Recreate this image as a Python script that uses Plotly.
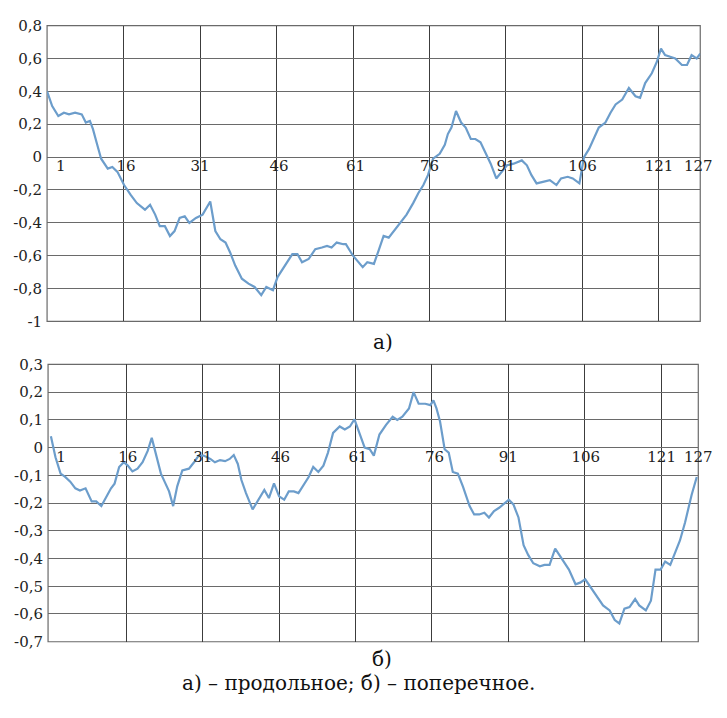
import plotly.graph_objects as go

# ---------------- data ----------------
top_x = [1, 2, 3.2, 4.3, 5.3, 6.5, 7.8, 8.6, 9.4, 10.0, 10.7, 11.6, 12.9, 13.8, 14.8,
         16.1, 17.4, 18.6, 20.2, 21.2, 22.2, 23.1, 24.1, 25.1, 26, 27, 28, 28.9, 30.2,
         31.5, 33, 34, 35, 36, 36.9, 37.9, 39.2, 40.5, 41.7, 43, 44, 45.3, 46.2, 47.2,
         48.1, 49.1, 50.1, 51, 52.3, 53.6, 54.9, 55.9, 56.8, 57.8, 59.1, 59.6, 61, 62.9,
         63.8, 65.1, 66, 67, 68, 69.3, 70.3, 71.5, 72.8, 73.8, 74.8, 75.7, 76.7, 78, 79,
         79.6, 80.3, 81.2, 82.2, 83.1, 84.1, 85, 86, 87, 88, 89.1, 89.9, 91.2, 92.5, 94.1,
         95.1, 96, 97, 98.3, 99.6, 100.9, 101.8, 103.1, 104.1, 105.4, 106.3, 107.3, 108.3,
         109.2, 110.5, 111.5, 112.5, 113.8, 115.1, 116.4, 117.3, 118.3, 119.6, 120.6, 121.4,
         122.2, 123.2, 124.2, 125.5, 126.5, 127.4, 128.4, 129.1]
top_y = [0.40, 0.31, 0.25, 0.27, 0.26, 0.27, 0.26, 0.21, 0.22, 0.17, 0.09, -0.01, -0.07,
         -0.06, -0.09, -0.17, -0.23, -0.28, -0.32, -0.29, -0.35, -0.42, -0.42, -0.48, -0.45,
         -0.37, -0.36, -0.40, -0.37, -0.35, -0.27, -0.45, -0.50, -0.52, -0.58, -0.66, -0.74,
         -0.77, -0.79, -0.84, -0.79, -0.81, -0.73, -0.68, -0.64, -0.59, -0.59, -0.64, -0.62,
         -0.56, -0.55, -0.54, -0.55, -0.52, -0.53, -0.53, -0.60, -0.67, -0.64, -0.65, -0.57,
         -0.48, -0.49, -0.44, -0.40, -0.35, -0.28, -0.22, -0.17, -0.11, -0.01, 0.02, 0.075,
         0.14, 0.18, 0.28, 0.21, 0.18, 0.11, 0.11, 0.09, 0.03, -0.04, -0.13, -0.10, -0.05,
         -0.04, -0.02, -0.05, -0.11, -0.16, -0.15, -0.14, -0.17, -0.13, -0.12, -0.13, -0.16,
         0.00, 0.05, 0.12, 0.18, 0.21, 0.27, 0.32, 0.35, 0.42, 0.37, 0.36, 0.45, 0.51, 0.58,
         0.66, 0.62, 0.61, 0.60, 0.56, 0.56, 0.62, 0.60, 0.63]

bot_x = [1.2, 2.1, 3.1, 4.0, 5.0, 6.0, 6.9, 8.0, 9.2, 10.1, 11.1, 12.1, 13.0, 13.7, 14.6,
         15.5, 16.3, 17.2, 18.2, 19.2, 20.2, 21.0, 22.0, 22.8, 23.7, 24.4, 25.2, 26.0, 27.0,
         28.3, 29.3, 30.2, 31.2, 32.5, 33.4, 34.4, 35.4, 36.3, 37.1, 37.9, 38.6, 39.5, 40.8,
         42.1, 43.1, 44.0, 45.0, 46.0, 47.0, 47.9, 48.9, 49.8, 50.8, 51.8, 52.7, 53.7, 54.7,
         55.6, 56.6, 57.9, 58.9, 59.9, 60.8, 61.6, 62.8, 63.8, 64.6, 65.7, 67.0, 68.3, 69.2,
         70.2, 71.5, 72.4, 73.4, 74.7, 75.7, 76.3, 76.9, 77.6, 78.5, 79.3, 80.1, 81.1, 82.1,
         83.4, 84.3, 85.3, 86.3, 87.2, 88.2, 89.2, 90.1, 91.1, 92.0, 93.0, 94.0, 94.9, 95.9,
         97.2, 98.1, 99.1, 100.2, 101.0, 101.9, 102.9, 104.2, 105.1, 106.1, 107.0, 108.3,
         109.6, 110.9, 111.9, 112.8, 113.8, 114.8, 115.9, 116.7, 118.0, 119.0, 119.9, 120.9,
         121.8, 122.8, 123.8, 124.7, 125.7, 127.0, 128.0]
bot_y = [0.041, -0.035, -0.094, -0.106, -0.123, -0.147, -0.155, -0.147, -0.194, -0.194,
         -0.211, -0.176, -0.147, -0.130, -0.070, -0.053, -0.065, -0.086, -0.076, -0.053,
         -0.012, 0.035, -0.035, -0.094, -0.130, -0.158, -0.211, -0.140, -0.082, -0.076,
         -0.053, -0.029, -0.029, -0.041, -0.053, -0.045, -0.049, -0.041, -0.027, -0.059,
         -0.117, -0.164, -0.223, -0.182, -0.153, -0.182, -0.129, -0.176, -0.188, -0.158,
         -0.158, -0.164, -0.135, -0.106, -0.070, -0.088, -0.065, -0.018, 0.053, 0.076, 0.065,
         0.076, 0.102, 0.059, 0.000, -0.006, -0.029, 0.047, 0.082, 0.111, 0.100, 0.111, 0.141,
         0.200, 0.158, 0.158, 0.153, 0.170, 0.141, 0.094, -0.006, -0.018, -0.088, -0.094,
         -0.141, -0.211, -0.241, -0.241, -0.235, -0.252, -0.229, -0.217, -0.203, -0.188,
         -0.205, -0.252, -0.352, -0.387, -0.417, -0.428, -0.423, -0.423, -0.364, -0.387,
         -0.411, -0.440, -0.493, -0.487, -0.475, -0.499, -0.534, -0.569, -0.587, -0.622,
         -0.634, -0.581, -0.575, -0.546, -0.569, -0.587, -0.552, -0.440, -0.440, -0.411,
         -0.423, -0.376, -0.335, -0.270, -0.170, -0.106]

grid_x = [16, 31, 46, 61, 76, 91, 106, 121]
x_label_text = ["1", "16", "31", "46", "61", "76", "91", "106", "121", "127"]
top_label_pos = [3.7, 16.5, 31, 46.5, 61.5, 76, 91, 106, 121, 128.7]
bot_label_pos = [3.2, 16.3, 31, 46.3, 61.5, 76.5, 91, 106.2, 121.1, 128.3]

top_yvals = [-1, -0.8, -0.6, -0.4, -0.2, 0, 0.2, 0.4, 0.6, 0.8]
top_ytext = ["-1", "-0,8", "-0,6", "-0,4", "-0,2", "0", "0,2", "0,4", "0,6", "0,8"]
bot_yvals = [-0.7, -0.6, -0.5, -0.4, -0.3, -0.2, -0.1, 0, 0.1, 0.2, 0.3]
bot_ytext = ["-0,7", "-0,6", "-0,5", "-0,4", "-0,3", "-0,2", "-0,1", "0", "0,1", "0,2", "0,3"]

cap_a = "а)"
cap_b = "б)"
caption = "а) – продольное; б) – поперечное."

# ---------------- layout ----------------
W, H = 727, 718
FONT = "DejaVu Serif"
LINE = "#6c9dcb"
GRID_V = "#3c3c3c"
GRID_H = "#6a6a6a"

def px_x(p):
    return p / W

def px_y(p):
    return 1 - p / H

top_xdom = [px_x(48), px_x(714)]
top_ydom = [px_y(320.5), px_y(17)]
bot_xdom = [px_x(49), px_x(712)]
bot_ydom = [px_y(649), px_y(364.5)]

top_xr = [1, 129.1]
top_yr = [-1, 0.8]
bot_xr = [0.64, 128.3]
bot_yr = [-0.7, 0.3]

def zero_pos(ydom, yr):
    f = (0 - yr[0]) / (yr[1] - yr[0])
    return ydom[0] + f * (ydom[1] - ydom[0])

fig = go.Figure()
fig.add_trace(go.Scatter(x=top_x, y=top_y, mode="lines", xaxis="x", yaxis="y",
                         line=dict(color=LINE, width=2.2), showlegend=False))
fig.add_trace(go.Scatter(x=bot_x, y=bot_y, mode="lines", xaxis="x2", yaxis="y2",
                         line=dict(color=LINE, width=2.2), showlegend=False))

tickfont = dict(family=FONT, size=15, color="#222")

common_x = dict(showgrid=True, gridcolor=GRID_V, gridwidth=1, tickmode="array",
                tickvals=grid_x, showticklabels=False, zeroline=False, showline=False,
                ticks="")
common_y = dict(showgrid=True, gridcolor=GRID_H, gridwidth=1, tickmode="array",
                zeroline=False, showline=False, ticks="", tickfont=tickfont,
                ticklabelstandoff=4)

fig.update_layout(
    width=W, height=H, margin=dict(l=0, r=0, t=0, b=0),
    paper_bgcolor="white", plot_bgcolor="white",
    xaxis=dict(domain=top_xdom, range=top_xr, anchor="y", **common_x),
    yaxis=dict(domain=top_ydom, range=top_yr, anchor="x", tickvals=top_yvals,
               ticktext=top_ytext, **common_y),
    xaxis2=dict(domain=bot_xdom, range=bot_xr, anchor="y2", **common_x),
    yaxis2=dict(domain=bot_ydom, range=bot_yr, anchor="x2", tickvals=bot_yvals,
                ticktext=bot_ytext, **common_y),
    xaxis3=dict(domain=top_xdom, range=top_xr, overlaying="x", anchor="free",
                position=zero_pos(top_ydom, top_yr), side="bottom", tickmode="array",
                tickvals=top_label_pos, ticktext=x_label_text, showgrid=False,
                zeroline=False, showline=False, ticks="", tickfont=tickfont,
                ticklabelstandoff=-2),
    xaxis4=dict(domain=bot_xdom, range=bot_xr, overlaying="x2", anchor="free",
                position=zero_pos(bot_ydom, bot_yr), side="bottom", tickmode="array",
                tickvals=bot_label_pos, ticktext=x_label_text, showgrid=False,
                zeroline=False, showline=False, ticks="", tickfont=tickfont,
                ticklabelstandoff=-2),
)

# invisible anchor traces so the overlaid label axes render
fig.add_trace(go.Scatter(x=[top_xr[0]], y=[top_yr[0]], xaxis="x3", yaxis="y",
                         mode="markers", marker=dict(opacity=0), showlegend=False,
                         hoverinfo="skip"))
fig.add_trace(go.Scatter(x=[bot_xr[0]], y=[bot_yr[0]], xaxis="x4", yaxis="y2",
                         mode="markers", marker=dict(opacity=0), showlegend=False,
                         hoverinfo="skip"))

# frames
for xr_, yr_ in (("x", "y"), ("x2", "y2")):
    fig.add_shape(type="rect", xref=f"{xr_} domain", yref=f"{yr_} domain",
                  x0=0, x1=1, y0=0, y1=1, line=dict(color=GRID_H, width=1.2),
                  fillcolor="rgba(0,0,0,0)", layer="below")

capfont = dict(family=FONT, size=20, color="#111")
fig.add_annotation(text=cap_a, x=px_x(391), y=px_y(342), xref="paper", yref="paper",
                   showarrow=False, font=capfont, xanchor="center", yanchor="middle")
fig.add_annotation(text=cap_b, x=px_x(389), y=px_y(667), xref="paper", yref="paper",
                   showarrow=False, font=capfont, xanchor="center", yanchor="middle")
fig.add_annotation(text=caption, x=px_x(366), y=px_y(691), xref="paper", yref="paper",
                   showarrow=False, font=capfont, xanchor="center", yanchor="middle")

fig.write_html("out.html", post_script="document.body.style.margin='0';")
